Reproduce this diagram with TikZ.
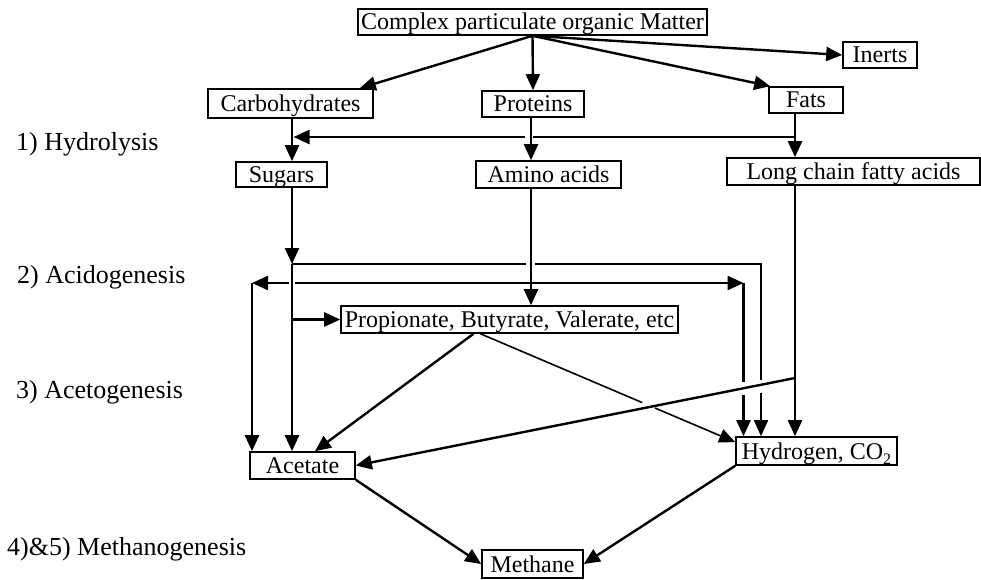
\documentclass[tikz,border=0pt]{standalone}
\usepackage{fontspec}
\setmainfont{Liberation Serif}
\usetikzlibrary{arrows.meta,calc}
\begin{document}
\begin{tikzpicture}[x=1pt,y=-1pt,
  box/.style={draw, line width=1.6pt, inner sep=0pt, font=\fontsize{24}{28}\selectfont, text height=19pt, text depth=3pt},
  lab/.style={anchor=base west, inner sep=0pt, font=\fontsize{26}{30}\selectfont},
  arr/.style={line width=2.4pt, -{Triangle[length=16pt,width=14pt]}},
  ln/.style={line width=2.4pt},
  thinln/.style={line width=1.6pt},
  tarr/.style={line width=1.6pt, -{Triangle[length=16pt,width=14pt]}},
]
\useasboundingbox (0,0) rectangle (981,580);

% boxes
\node[box, minimum width=349pt, minimum height=26pt] (cpom) at (532.5,22) {Complex particulate organic Matter};
\node[box, minimum width=74pt, minimum height=26pt] (inerts) at (880,55) {Inerts};
\node[box, minimum width=165pt, minimum height=29pt] (carb) at (290.5,103.5) {Carbohydrates};
\node[box, minimum width=102pt, minimum height=26pt] (prot) at (533,104) {Proteins};
\node[box, minimum width=74pt, minimum height=26pt] (fats) at (806,100) {Fats};
\node[box, minimum width=91pt, minimum height=25pt] (sugars) at (281.5,174.5) {Sugars};
\node[box, minimum width=145pt, minimum height=27pt] (amino) at (548.5,174.5) {Amino acids};
\node[box, minimum width=253pt, minimum height=27pt] (lcfa) at (853.5,171.5) {Long chain fatty acids};
\node[box, minimum width=337pt, minimum height=27pt] (prop) at (509.5,319.5) {Propionate, Butyrate, Valerate, etc};
\node[box, minimum width=105pt, minimum height=27pt] (acet) at (302.5,465.5) {Acetate};
\node[box, minimum width=161pt, minimum height=28pt] (hyd) at (816.5,451) {Hydrogen, CO{\fontsize{16}{16}\selectfont\raisebox{-5pt}{2}}};
\node[box, minimum width=101pt, minimum height=28pt] (meth) at (532.5,564) {Methane};

% stage labels
\node[lab] (l1) at (16,151) {1) Hydrolysis};
\node[lab] (l2) at (17,283) {2) Acidogenesis};
\node[lab] (l3) at (16,398) {3) Acetogenesis};
\node[lab] (l4) at (7,555) {4)\&5) Methanogenesis};

% guide coordinates
\coordinate (xs) at (292,0);
\coordinate (xa) at (531,0);
\coordinate (xf) at (795,0);
\coordinate (xl) at (252,0);
\coordinate (xr1) at (743.5,0);
\coordinate (xr2) at (761,0);

% from complex matter
\draw[arr] (cpom.south) -- ([xshift=-14pt]carb.north east);
\draw[arr] (cpom.south) -- (prot.north);
\draw[arr] (cpom.south) -- ([xshift=2pt]fats.north west);
\draw[arr] (cpom.south) -- (inerts.west);

% hydrolysis
\draw[arr] (carb.south -| xs) -- (sugars.north -| xs);
\draw[arr] (prot.south -| xa) -- (amino.north -| xa);
\draw[arr] (fats.south -| xf) -- (lcfa.north -| xf);
\coordinate (h1a) at (795,137);
\coordinate (h1b) at (533,137);
\coordinate (h1c) at (525,137);
\coordinate (h1d) at (293.5,137);
\draw[ln] (h1a) -- (h1b);
\draw[arr] (h1c) -- (h1d);

% sugars
\coordinate (s1) at (292,264);
\draw[arr] (sugars.south -| xs) -- (s1);
\draw[arr] (s1) -- (acet.north -| xs);
\coordinate (t1) at (526,264);
\coordinate (t2) at (535,264);
\coordinate (t3) at (761,264);
\coordinate (t4) at (761,380);
\coordinate (t5) at (761,393);
\draw[thinln] (s1) -- (t1);
\draw[thinln] (t2) -- (t3) -- (t4);
\draw[tarr] (t5) -- (hyd.north -| xr2);
\coordinate (s2) at (292,319.5);
\draw[arr] (s2) -- (prop.west);

% amino acids
\draw[arr] (amino.south -| xa) -- (prop.north -| xa);
\coordinate (a1) at (531,283);
\coordinate (a2) at (295,283);
\coordinate (a3) at (289,283);
\coordinate (a4) at (252,283);
\coordinate (a5) at (743.5,283);
\coordinate (a6) at (743.5,382);
\coordinate (a7) at (743.5,395);
\draw[ln] (a1) -- (a2);
\draw[arr] (a3) -- (a4);
\draw[arr] (a4) -- (acet.north -| xl);
\draw[arr] (a1) -- (a5);
\draw[ln] (a5) -- (a6);
\draw[arr] (a7) -- (hyd.north -| xr1);

% propionate etc
\coordinate (ps) at ([xshift=-29pt]prop.south);
\coordinate (pe) at ($(hyd.north west)!0.2!(hyd.south west)$);
\draw[arr] ([xshift=-36pt]prop.south) -- ([xshift=12.5pt]acet.north);
\draw[thinln] (ps) -- ($(ps)!0.635!(pe)$);
\draw[tarr] ($(ps)!0.685!(pe)$) -- (pe);

% long chain fatty acids
\coordinate (j3) at (795,378);
\draw[arr] (lcfa.south -| xf) -- (hyd.north -| xf);
\draw[arr] (j3) -- (acet.east);

% methanogenesis
\draw[arr] (acet.south east) -- (meth.west);
\draw[arr] (hyd.south west) -- (meth.east);
\end{tikzpicture}
\end{document}
